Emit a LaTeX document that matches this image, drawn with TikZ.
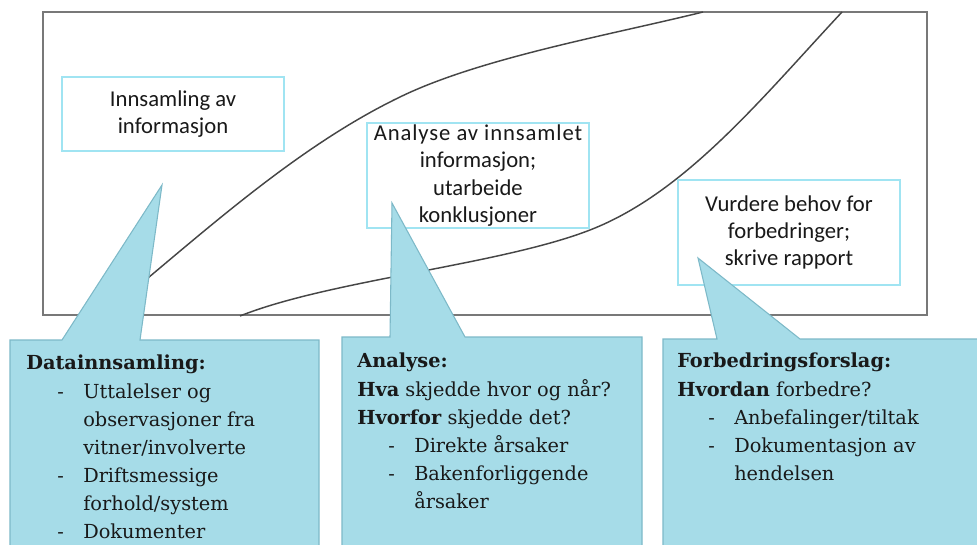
\documentclass[tikz,border=0pt]{standalone}
\usepackage{fontspec}
\newfontfamily\boxfont{Carlito}
\newfontfamily\calfont{DejaVu Serif}
\newcommand{\itm}[1]{\hspace*{23.25pt}\makebox[19.5pt][l]{-}#1}
\newcommand{\cnt}[1]{\hspace*{42.75pt}#1}
\definecolor{calfill}{RGB}{166,220,232}
\definecolor{caledge}{RGB}{125,185,200}
\definecolor{boxedge}{RGB}{160,228,242}
\definecolor{framecol}{RGB}{120,120,120}
\definecolor{curvecol}{RGB}{70,70,70}
\definecolor{ink}{RGB}{25,25,25}
\tikzset{
  stagebox/.style={draw=boxedge, line width=1.1pt, fill=white, inner sep=0pt,
    minimum width=166.5pt, align=center, text=ink,
    font={\boxfont\fontsize{17}{20.5}\selectfont}},
  calloutshape/.style={fill=calfill, draw=caledge, line width=0.8pt, line join=miter},
  callouttext/.style={anchor=north west, inner sep=0pt, align=left, text=ink,
    font={\calfont\fontsize{14.5}{21.1}\selectfont}},
  phasecurve/.style={draw=curvecol, line width=1.1pt}
}
\begin{document}
\begin{tikzpicture}[x=0.75pt, y=-0.75pt]
\useasboundingbox (0,0) rectangle (977,545);
\clip (0,0) rectangle (977,545);
% outer frame
\draw[draw=framecol, line width=1.5pt] (43,12) rectangle (927,315);
% phase curves
\draw[phasecurve] (102,316) .. controls (190,245) and (290,150) .. (400,97)
                  .. controls (480,58) and (610,35) .. (703,12);
\draw[phasecurve] (240,316) .. controls (330,280) and (500,265) .. (590,230)
                  .. controls (685,193) and (760,100) .. (842,12);
% stage boxes
\node[stagebox, minimum height=55.5pt] (b1) at (173,114) {Innsamling av\\informasjon};
\node[stagebox, minimum height=78.75pt] (b2) at (478,175.5) {\addfontfeature{LetterSpace=4}Analyse av innsamlet\\informasjon;\\utarbeide\\konklusjoner};
\node[stagebox, minimum height=78.75pt] (b3) at (789,232.5) {Vurdere behov for\\forbedringer;\\skrive rapport};
% callouts
\coordinate (tip1) at (162,185);
\coordinate (tip2) at (392,203);
\coordinate (tip3) at (698,258);
\draw[calloutshape] (10,340) -- (62,340) -- (tip1) -- (140,340) -- (319,340) -- (319,560) -- (10,560) -- cycle;
\draw[calloutshape] (342,337) -- (390,337) -- (tip2) -- (465,337) -- (642,337) -- (642,560) -- (342,560) -- cycle;
\draw[calloutshape] (663,339) -- (717,339) -- (tip3) -- (800,339) -- (990,339) -- (990,560) -- (663,560) -- cycle;
% callout texts
\node[callouttext] (t1) at (26,355) {\textbf{Datainnsamling:}\\
\itm{Uttalelser og}\\
\cnt{observasjoner fra}\\
\cnt{vitner/involverte}\\
\itm{Driftsmessige}\\
\cnt{forhold/system}\\
\itm{Dokumenter}};
\node[callouttext] (t2) at (357,353) {\textbf{Analyse:}\\
\textbf{Hva} skjedde hvor og når?\\
\textbf{Hvorfor} skjedde det?\\
\itm{Direkte årsaker}\\
\itm{Bakenforliggende}\\
\cnt{årsaker}};
\node[callouttext] (t3) at (677,353) {\textbf{Forbedringsforslag:}\\
\textbf{Hvordan} forbedre?\\
\itm{Anbefalinger/tiltak}\\
\itm{Dokumentasjon av}\\
\cnt{hendelsen}};
\end{tikzpicture}
\end{document}
